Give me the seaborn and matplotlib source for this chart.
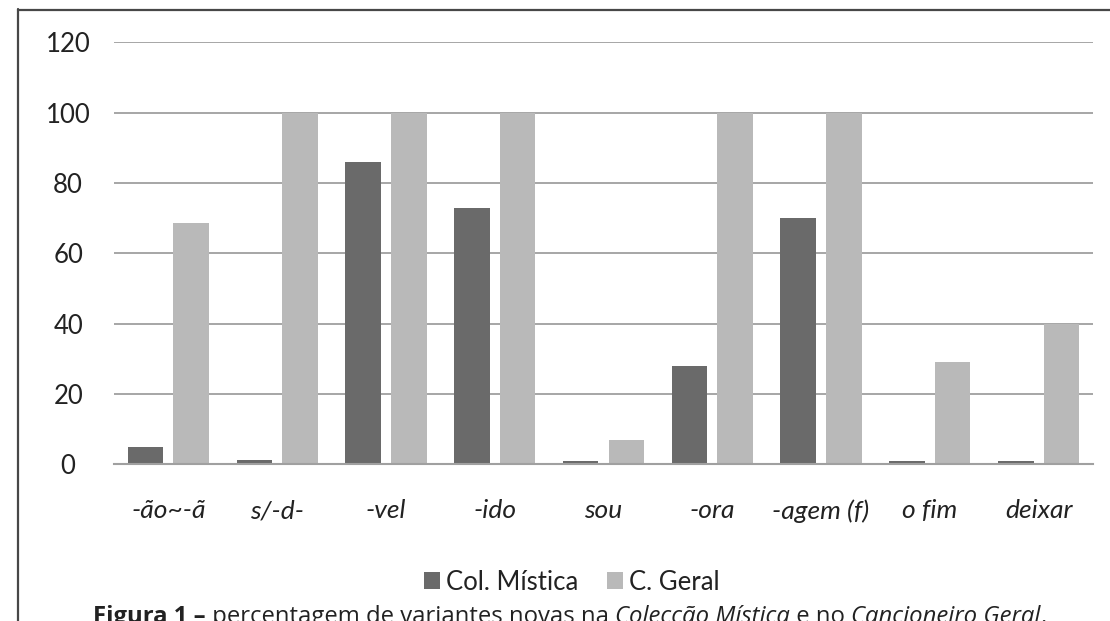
import matplotlib
matplotlib.use("Agg")
import matplotlib.pyplot as plt
from matplotlib.patches import Patch
from matplotlib.lines import Line2D
import seaborn as sns
import pandas as pd

categories = ["-ão~-ã", "s/-d-", "-vel", "-ido", "sou", "-ora", "-agem (f)", "o fim", "deixar"]
col_mistica = [5, 1.2, 86, 73, 0.8, 28, 70, 0.8, 0.8]
c_geral = [68.5, 100, 100, 100, 7, 100, 100, 29, 40]
series_names = ["Col. Mística", "C. Geral"]
y_ticks = [0, 20, 40, 60, 80, 100, 120]

dark, light = "#6a6a6a", "#b9b9b9"

df = pd.DataFrame({
    "categoria": categories * 2,
    "valor": col_mistica + c_geral,
    "serie": [series_names[0]] * len(categories) + [series_names[1]] * len(categories),
})

sns.set_theme(style="white")
plt.rcParams["font.family"] = ["Lato", "DejaVu Sans"]

W, H = 1110, 621
fig = plt.figure(figsize=(W / 100, H / 100), dpi=100)
ax = fig.add_axes([114 / W, 1 - 464.3 / H, (1093 - 114) / W, (464.3 - 42.3) / H])

sns.barplot(data=df, x="categoria", y="valor", hue="serie", order=categories,
            hue_order=series_names, palette=[dark, light], width=0.84, gap=0.22,
            saturation=1, linewidth=0, legend=False, ax=ax)

ax.set_ylim(0, 120)
ax.set_xlim(-0.5, len(categories) - 0.5)
ax.set_yticks(y_ticks)
ax.set_yticklabels([str(v) for v in y_ticks], fontsize=18.5, color="#222222", ha="center")
ax.set_xticks(range(len(categories)))
ax.set_xticklabels(categories, fontsize=19, style="italic", color="#222222")
ax.tick_params(axis="y", length=0, pad=33)
ax.tick_params(axis="x", length=0, pad=25)
ax.set_xlabel("")
ax.set_ylabel("")
ax.yaxis.grid(True, color="#a6a6a6", linewidth=1.4)
ax.set_axisbelow(True)
for side in ["top", "right", "left"]:
    ax.spines[side].set_visible(False)
ax.spines["bottom"].set_color("#a0a0a0")
ax.spines["bottom"].set_linewidth(1.5)

# legend below the plot
handles = [Patch(facecolor=dark, edgecolor="none"), Patch(facecolor=light, edgecolor="none")]
fig.legend(handles, series_names, loc="center", bbox_to_anchor=(572 / W, 1 - 582 / H),
           ncol=2, frameon=False, fontsize=18.5, handlelength=0.62, handleheight=0.62,
           handletextpad=0.25, columnspacing=1.1, labelcolor="#222222",
           borderpad=0, borderaxespad=0)

# frame around the chart
fig.add_artist(Line2D([18.3 / W, 18.3 / W], [1 - 9 / H, 0], color="#474747", linewidth=1.6))
fig.add_artist(Line2D([17.5 / W, 1], [1 - 10 / H, 1 - 10 / H], color="#474747", linewidth=1.6))

# caption with mixed styles, laid out piece by piece
caption = [
    ("Figura 1 –", "bold", "normal"),
    (" percentagem de variantes novas na ", "normal", "normal"),
    ("Colecção Mística", "normal", "italic"),
    (" e no ", "normal", "normal"),
    ("Cancioneiro Geral", "normal", "italic"),
    (".", "normal", "normal"),
]
renderer = fig.canvas.get_renderer()
texts = []
for s, weight, style in caption:
    t = fig.text(0, 1 - 623 / H, s, fontsize=17.2, fontweight=weight, fontstyle=style,
                 color="#222222", va="baseline", ha="left", family=["Open Sans", "DejaVu Sans"])
    texts.append(t)
widths = [t.get_window_extent(renderer).width for t in texts]
x = 570 - sum(widths) / 2
for t, w in zip(texts, widths):
    t.set_x(x / W)
    x += w

fig.savefig("out.png", dpi=100)
